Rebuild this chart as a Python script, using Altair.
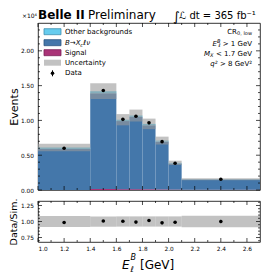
import altair as alt
import pandas as pd

# ---------------- data (values in units of 10^4 events) ----------------
bin_lo = [1.0, 1.4, 1.6, 1.7, 1.8, 1.9, 2.0, 2.1]
bin_hi = [1.4, 1.6, 1.7, 1.8, 1.9, 2.0, 2.1, 2.7]
signal = [0.000, 0.015, 0.012, 0.012, 0.010, 0.008, 0.006, 0.004]
bxclnu = [0.590, 1.375, 0.978, 1.038, 0.920, 0.687, 0.374, 0.146]
other_bkg = [0.020, 0.030, 0.020, 0.020, 0.020, 0.015, 0.010, 0.005]
data_vals = [0.600, 1.430, 1.015, 1.060, 0.965, 0.695, 0.385, 0.155]
rel_unc = [0.087, 0.080, 0.080, 0.080, 0.080, 0.080, 0.080, 0.090]

x_major = [1.0, 1.2, 1.4, 1.6, 1.8, 2.0, 2.2, 2.4, 2.6]
x_minor = [1.1, 1.3, 1.5, 1.7, 1.9, 2.1, 2.3, 2.5]
y_major = [0.0, 0.5, 1.0, 1.5, 2.0]
y_minor = [0.1, 0.2, 0.3, 0.4, 0.6, 0.7, 0.8, 0.9, 1.1, 1.2, 1.3, 1.4,
           1.6, 1.7, 1.8, 1.9, 2.1, 2.2, 2.3]
r_major = [0.75, 1.0, 1.25]
r_minor = [0.70, 0.80, 0.85, 0.90, 0.95, 1.05, 1.10, 1.15, 1.20, 1.30]

legend_labels = ["Other backgrounds", "", "Signal", "Uncertainty", "Data"]
cut_labels = [" > 1 GeV", " < 1.7 GeV", " > 8 GeV²"]

FONT = "DejaVu Sans"
C_OTHER, C_OTHER_E = "#66CCEE", "#3f8fb0"
C_BX, C_BX_E = "#4477AA", "#2c5581"
C_SIG, C_SIG_E = "#AA3377", "#7a1f55"
C_UNC, UNC_OP = "#9a9a9a", 0.6

W, H, RH = 222, 167, 41

rows = []
for i in range(len(bin_lo)):
    s1 = signal[i]
    s2 = s1 + bxclnu[i]
    s3 = s2 + other_bkg[i]
    d = data_vals[i]
    err = (d * 1e4) ** 0.5 / 1e4
    rows.append(dict(lo=bin_lo[i], hi=bin_hi[i], c=(bin_lo[i] + bin_hi[i]) / 2,
                     zero=0.0, s1=s1, s2=s2, s3=s3,
                     ulo=s3 * (1 - rel_unc[i]), uhi=s3 * (1 + rel_unc[i]),
                     d=d, dlo=d - err, dhi=d + err,
                     r=d / s3, rlo=(d - err) / s3, rhi=(d + err) / s3,
                     rblo=1 - rel_unc[i], rbhi=1 + rel_unc[i]))
df = pd.DataFrame(rows)

xs = alt.Scale(domain=[1.0, 2.7], nice=False, zero=False)
ys = alt.Scale(domain=[0, 2.4], nice=False, zero=False)
rs = alt.Scale(domain=[0.68, 1.32], nice=False, zero=False)

main_yaxis = alt.Axis(values=y_major, format=".2f", ticks=False, domain=False, grid=False,
                      labelFont=FONT, labelFontSize=5.8, labelPadding=4.5, labelColor="black",
                      title="Events", titleFont=FONT, titleFontSize=11, titleFontWeight="normal",
                      titleColor="black", titlePadding=1)
r_yaxis = alt.Axis(values=r_major, format=".2f", ticks=False, domain=False, grid=False,
                   labelFont=FONT, labelFontSize=5.8, labelPadding=4.5, labelColor="black",
                   title="Data/Sim.", titleFont=FONT, titleFontSize=9.5, titleFontWeight="normal",
                   titleColor="black", titlePadding=2)
r_xaxis = alt.Axis(values=x_major, format=".1f", ticks=False, domain=False, grid=False,
                   labelFont=FONT, labelFontSize=5.8, labelPadding=3, labelColor="black", title=None)

base = alt.Chart(df)


def text(t, x, y, size=7, align="left", weight="normal", style="normal", baseline="alphabetic"):
    return alt.Chart(pd.DataFrame({"t": [t]})).mark_text(
        font=FONT, fontSize=size, align=align, fontWeight=weight, fontStyle=style,
        baseline=baseline, color="black"
    ).encode(x=alt.value(x), y=alt.value(y), text="t:N")


def ticks(vals, length, xaxis, yscale, yaxis, orient, w, h):
    c = alt.Chart(pd.DataFrame({"v": vals})).mark_rule(color="black", strokeWidth=0.7)
    if orient == "bottom":
        return c.encode(x=alt.X("v:Q", scale=xs, axis=xaxis), y=alt.value(h), y2=alt.value(h - length))
    if orient == "top":
        return c.encode(x=alt.X("v:Q", scale=xs, axis=xaxis), y=alt.value(0), y2=alt.value(length))
    if orient == "left":
        return c.encode(y=alt.Y("v:Q", scale=yscale, axis=yaxis), x=alt.value(0), x2=alt.value(length))
    return c.encode(y=alt.Y("v:Q", scale=yscale, axis=yaxis), x=alt.value(w), x2=alt.value(w - length))


def all_ticks(xmaj, xmin, ymaj, ymin, xaxis, yscale, yaxis, w, h):
    out = []
    for o in ["bottom", "top"]:
        out.append(ticks(xmaj, 4, xaxis, yscale, yaxis, o, w, h))
        out.append(ticks(xmin, 2, xaxis, yscale, yaxis, o, w, h))
    for o in ["left", "right"]:
        out.append(ticks(ymaj, 4, xaxis, yscale, yaxis, o, w, h))
        out.append(ticks(ymin, 2, xaxis, yscale, yaxis, o, w, h))
    return out


MX = lambda f: alt.X(f, scale=xs, axis=None)
MY = lambda f: alt.Y(f, scale=ys, axis=main_yaxis)

sig_l = base.mark_rect(color=C_SIG).encode(x=MX("lo:Q"), x2="hi:Q", y=MY("zero:Q"), y2="s1:Q")
bx_l = base.mark_rect(color=C_BX).encode(x=MX("lo:Q"), x2="hi:Q", y=MY("s1:Q"), y2="s2:Q")
oth_l = base.mark_rect(color=C_OTHER).encode(x=MX("lo:Q"), x2="hi:Q", y=MY("s2:Q"), y2="s3:Q")
unc_l = base.mark_rect(color=C_UNC, opacity=UNC_OP).encode(x=MX("lo:Q"), x2="hi:Q", y=MY("ulo:Q"), y2="uhi:Q")
err_l = base.mark_rule(color="black", strokeWidth=1).encode(x=MX("c:Q"), y=MY("dlo:Q"), y2="dhi:Q")
pts_l = base.mark_circle(color="black", opacity=1, size=13).encode(x=MX("c:Q"), y=MY("d:Q"))

# legend
leg_rows = [8.7, 19.7, 29.7, 39.7, 50.3]
leg = []
sw = [(C_OTHER, C_OTHER_E, 1.0), (C_BX, C_BX_E, 1.0), (C_SIG, C_SIG_E, 1.0)]
for i, (fc, ec, op) in enumerate(sw):
    leg.append(alt.Chart(pd.DataFrame({"k": [i]})).mark_rect(
        color=fc, opacity=op, stroke=ec, strokeWidth=0.8).encode(
        x=alt.value(6), x2=alt.value(23), y=alt.value(leg_rows[i] - 3), y2=alt.value(leg_rows[i] + 3)))
leg.append(alt.Chart(pd.DataFrame({"k": [3]})).mark_rect(color=C_UNC, opacity=UNC_OP).encode(
    x=alt.value(6), x2=alt.value(23), y=alt.value(leg_rows[3] - 3), y2=alt.value(leg_rows[3] + 3)))
leg.append(alt.Chart(pd.DataFrame({"k": [0]})).mark_rule(color="black", strokeWidth=1).encode(
    x=alt.value(14.5), y=alt.value(leg_rows[4] - 3), y2=alt.value(leg_rows[4] + 3)))
leg.append(alt.Chart(pd.DataFrame({"k": [0]})).mark_circle(color="black", opacity=1, size=13).encode(
    x=alt.value(14.5), y=alt.value(leg_rows[4])))
for i, lab in enumerate(legend_labels):
    if lab:
        leg.append(text(lab, 27, leg_rows[i], size=7, baseline="middle"))
leg.append(text("B→X", 27, leg_rows[1], size=7, style="italic", baseline="middle"))
leg.append(text("c", 42.3, leg_rows[1] + 2, size=5, style="italic", baseline="middle"))
leg.append(text("ℓν", 45.3, leg_rows[1], size=7, style="italic", baseline="middle"))

# header texts
hdr = [
    text("Belle II", 0, -3.7, size=12, weight="bold"),
    text("Preliminary", 50, -3.7, size=12),
    text("∫", 135, -2.5, size=13, style="italic"),
    text("ℒ dt = 365 fb⁻¹", 141, -4.5, size=10),
    text("×10⁴", -1, -5, size=6, align="right"),
]

# cut annotations (right aligned)
R = 214
ann = [
    text("0, low", R, 12, size=5, align="right"),
    text("CR", R - 15, 10.5, size=7, align="right"),
    text(cut_labels[0], R, 22.5, size=7, align="right"),
    text("B", R - 31.5, 19.5, size=5, align="right", style="italic"),
    text("ℓ", R - 31.5, 24, size=5, align="right", style="italic"),
    text("E", R - 35, 22.5, size=7, align="right", style="italic"),
    text(cut_labels[1], R, 32.5, size=7, align="right"),
    text("X", R - 38.5, 34, size=5, align="right", style="italic"),
    text("M", R - 42, 32.5, size=7, align="right", style="italic"),
    text(cut_labels[2], R, 42.5, size=7, align="right"),
    text("q²", R - 34.5, 42.5, size=7, align="right", style="italic"),
]

main = alt.layer(sig_l, bx_l, oth_l, unc_l, err_l, pts_l,
                 *all_ticks(x_major, x_minor, y_major, y_minor, None, ys, main_yaxis, W, H),
                 *leg, *hdr, *ann).properties(width=W, height=H)

# ---------------- ratio panel ----------------
RX = lambda f: alt.X(f, scale=xs, axis=r_xaxis)
RY = lambda f: alt.Y(f, scale=rs, axis=r_yaxis)

rband = base.mark_rect(color=C_UNC, opacity=UNC_OP).encode(x=RX("lo:Q"), x2="hi:Q", y=RY("rblo:Q"), y2="rbhi:Q")
rerr = base.mark_rule(color="black", strokeWidth=1).encode(x=RX("c:Q"), y=RY("rlo:Q"), y2="rhi:Q")
rpts = base.mark_circle(color="black", opacity=1, size=13).encode(x=RX("c:Q"), y=RY("r:Q"))

xt = [
    text("E", 84, 67.5, size=12, style="italic"),
    text("ℓ", 92.5, 70.5, size=8, style="italic"),
    text("B", 92.5, 59, size=8, style="italic"),
    text("[GeV]", 102, 67.5, size=12),
]

ratio = alt.layer(rband, rerr, rpts,
                  *all_ticks(x_major, x_minor, r_major, r_minor, r_xaxis, rs, r_yaxis, W, RH),
                  *xt).properties(width=W, height=RH)

chart = alt.vconcat(main, ratio, spacing=11, bounds="flush").properties(
    padding={"left": 0, "top": 0, "right": 0, "bottom": 0}, background="white"
).configure_view(stroke="black", strokeWidth=0.8)

chart.save("out.html", embed_options={"renderer": "svg", "actions": False})
